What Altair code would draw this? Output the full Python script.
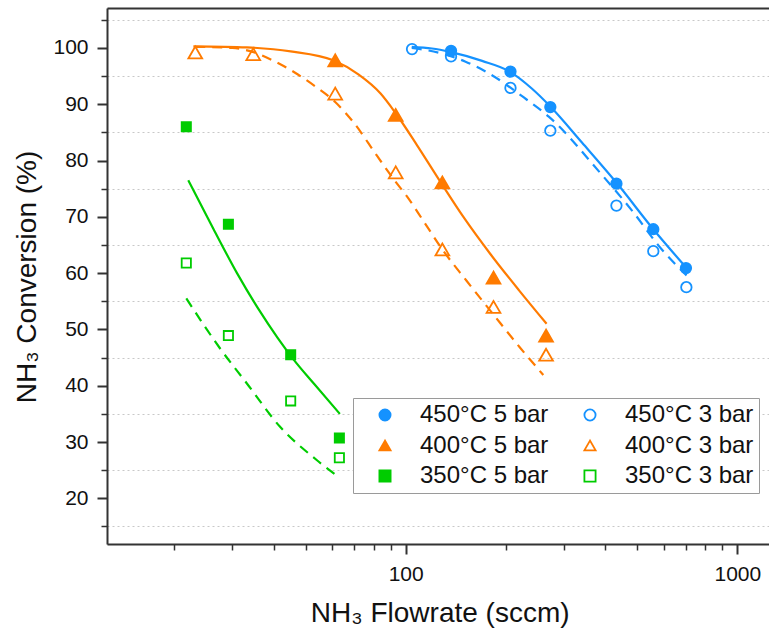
import altair as alt
import pandas as pd

# ---------------- data ----------------
# legend fills column by column: first column 5 bar, second column 3 bar
order = ["450°C 5 bar", "400°C 5 bar", "350°C 5 bar", "450°C 3 bar", "400°C 3 bar", "350°C 3 bar"]

# measured points
x_450_5 = [137, 207, 273, 432, 558, 700]
y_450_5 = [99.5, 95.8, 89.5, 75.9, 67.8, 60.9]
x_450_3 = [104.5, 137, 207, 273, 432, 558, 702]
y_450_3 = [99.8, 98.5, 92.9, 85.3, 72.0, 63.9, 57.5]
x_400_5 = [61.3, 93.3, 129, 184, 265]
y_400_5 = [97.8, 88.1, 76.1, 59.2, 48.9]
x_400_3 = [23.2, 34.7, 61.3, 93.3, 129, 184, 265]
y_400_3 = [99.2, 98.9, 91.9, 77.9, 64.2, 54.0, 45.5]
x_350_5 = [21.8, 29.2, 45.0, 63.1]
y_350_5 = [86.0, 68.7, 45.5, 30.7]
x_350_3 = [21.8, 29.2, 45.0, 63.1]
y_350_3 = [61.8, 48.9, 37.3, 27.2]

# fitted curves
fx_450_5 = [104.3, 120, 136, 170, 206, 240, 273, 340, 433, 558, 703]
fy_450_5 = [100.2, 99.9, 99.3, 97.7, 95.8, 92.8, 89.6, 83.2, 76.0, 67.8, 60.9]
fx_450_3 = [104.3, 127, 151, 178, 232, 270, 386, 480, 592, 703]
fy_450_3 = [100.0, 99.1, 97.6, 95.5, 90.8, 87.8, 77.8, 71.2, 64.2, 59.6]
fx_400_5 = [22.9, 33.2, 45, 60.5, 72, 84, 93.3, 108, 127, 150, 180, 220, 266]
fy_400_5 = [100.3, 100.1, 99.4, 97.8, 95.3, 91.9, 88.4, 82.8, 76.3, 69.8, 63.4, 56.9, 51.0]
fx_400_3 = [23.2, 30, 35, 39.4, 46.4, 53.3, 61.3, 70, 81.8, 93.3, 101, 113, 129, 152.8, 183.6, 221, 260]
fy_400_3 = [100.2, 100.0, 99.2, 97.9, 95.6, 93.2, 90.4, 86.6, 80.9, 76.2, 73.6, 69.3, 64.2, 58.6, 52.7, 46.8, 41.9]
fx_350_5 = [22.1, 26.3, 31, 36, 41, 46, 53, 63.3]
fy_350_5 = [76.5, 67.9, 60.0, 53.6, 48.6, 44.6, 40.3, 35.0]
fx_350_3 = [21.8, 27.5, 33.2, 41.8, 53.9, 63.3]
fy_350_3 = [55.5, 46.7, 40.4, 32.7, 26.8, 23.6]

BLUE, ORANGE, GREEN = "#1592FF", "#FF7B00", "#00CC00"
stroke_range = [BLUE, ORANGE, GREEN, BLUE, ORANGE, GREEN]
fill_range = [BLUE, ORANGE, GREEN, "transparent", "transparent", "transparent"]
shape_range = ["circle", "triangle-up", "square", "circle", "triangle-up", "square"]
marker_size = {"circle": 110, "triangle-up": 190, "square": 85}

minor_x = [20, 30, 40, 50, 60, 70, 80, 90, 200, 300, 400, 500, 600, 700, 800, 900]
major_x = [100, 1000]
minor_y = [15, 25, 35, 45, 55, 65, 75, 85, 95, 105]
major_y = [20, 30, 40, 50, 60, 70, 80, 90, 100]

# ---------------- tables ----------------
series_data = {
    "450°C 5 bar": ((x_450_5, y_450_5), (fx_450_5, fy_450_5)),
    "450°C 3 bar": ((x_450_3, y_450_3), (fx_450_3, fy_450_3)),
    "400°C 5 bar": ((x_400_5, y_400_5), (fx_400_5, fy_400_5)),
    "400°C 3 bar": ((x_400_3, y_400_3), (fx_400_3, fy_400_3)),
    "350°C 5 bar": ((x_350_5, y_350_5), (fx_350_5, fy_350_5)),
    "350°C 3 bar": ((x_350_3, y_350_3), (fx_350_3, fy_350_3)),
}

prow, lrow = [], []
for i, name in enumerate(order):
    (xs, ys), (fx, fy) = series_data[name]
    for a, b in zip(xs, ys):
        prow.append({"x": a, "y": b, "series": name, "sz": marker_size[shape_range[i]]})
    for k, (a, b) in enumerate(zip(fx, fy)):
        lrow.append({"x": a, "y": b, "series": name, "col": stroke_range[i],
                     "p": "5" if "5 bar" in name else "3", "k": k})
pdf = pd.DataFrame(prow)
ldf = pd.DataFrame(lrow)

FONT = "Liberation Sans"
xs_ = alt.Scale(type="log", domain=[12.57, 1246], nice=False)
ys_ = alt.Scale(domain=[11.88, 107.1], nice=False, zero=False)
AX = "#333333"

# minor ticks + grid
minor = alt.Chart(pdf).mark_point(opacity=0).encode(
    x=alt.X("x:Q", scale=xs_, axis=alt.Axis(values=minor_x, orient="bottom", tickSize=6, tickWidth=1.5,
                                           tickColor=AX, labels=False, domain=False, grid=False, title=None)),
    y=alt.Y("y:Q", scale=ys_, axis=alt.Axis(values=minor_y, orient="left", tickSize=6, tickWidth=1.5,
                                           tickColor=AX, labels=False, domain=False, grid=True,
                                           gridDash=[2, 3], gridColor="#c8c8c8", gridWidth=1, title=None)),
)

# top frame line
top = alt.Chart(pdf).mark_point(opacity=0).encode(
    x=alt.X("x:Q", scale=xs_, axis=alt.Axis(orient="top", ticks=False, labels=False, domain=True,
                                           domainColor=AX, domainWidth=2, grid=False, title=None)),
    y=alt.Y("y:Q", scale=ys_, axis=None),
)

solid = alt.Chart(ldf).transform_filter(alt.datum.p == "5").mark_line(
    strokeWidth=2.2, interpolate="monotone").encode(
    x=alt.X("x:Q", scale=xs_, axis=None),
    y=alt.Y("y:Q", scale=ys_, axis=None),
    color=alt.Color("col:N", scale=None),
    detail="series:N",
    order="k:Q",
)
dashed = alt.Chart(ldf).transform_filter(alt.datum.p == "3").mark_line(
    strokeWidth=2.2, strokeDash=[10, 7], interpolate="monotone").encode(
    x=alt.X("x:Q", scale=xs_, axis=None),
    y=alt.Y("y:Q", scale=ys_, axis=None),
    color=alt.Color("col:N", scale=None),
    detail="series:N",
    order="k:Q",
)

leg = dict(title=None, orient="none", legendX=246, legendY=390, columns=2, symbolSize=125,
           symbolStrokeWidth=1.8, labelFontSize=24, labelFont=FONT, labelColor="#111111",
           padding=5, strokeColor="#9a9a9a", fillColor="white", rowPadding=6.5, columnPadding=14,
           symbolOffset=15, labelOffset=23, labelLimit=300)

points = alt.Chart(pdf).mark_point(filled=True, strokeWidth=1.8, opacity=1).encode(
    x=alt.X("x:Q", scale=xs_, axis=alt.Axis(values=major_x, orient="bottom", tickSize=10, tickWidth=2,
                                           tickColor=AX, domainColor=AX, domainWidth=2, grid=False,
                                           format="d", labelFont=FONT, labelFontSize=21, labelColor="#111111",
                                           labelBaseline="alphabetic", labelPadding=26,
                                           title="NH₃ Flowrate (sccm)", titleFont=FONT, titleFontSize=28,
                                           titleFontWeight="normal", titleColor="#111111",
                                           titleX=332.7, titleY=77.7, titleAlign="center",
                                           titleBaseline="alphabetic")),
    y=alt.Y("y:Q", scale=ys_, axis=alt.Axis(values=major_y, orient="left", tickSize=10, tickWidth=2,
                                           tickColor=AX, domainColor=AX, domainWidth=2, grid=False,
                                           labelFont=FONT, labelFontSize=21, labelColor="#111111",
                                           labelPadding=9,
                                           title="NH₃ Conversion (%)", titleFont=FONT, titleFontSize=28,
                                           titleFontWeight="normal", titleColor="#111111",
                                           titleAngle=270, titleX=-72, titleY=268.5, titleAlign="center",
                                           titleBaseline="alphabetic")),
    stroke=alt.Stroke("series:N", scale=alt.Scale(domain=order, range=stroke_range), legend=alt.Legend(**leg)),
    fill=alt.Fill("series:N", scale=alt.Scale(domain=order, range=fill_range), legend=alt.Legend(**leg)),
    shape=alt.Shape("series:N", scale=alt.Scale(domain=order, range=shape_range), legend=alt.Legend(**leg)),
    size=alt.Size("sz:Q", scale=None),
)

chart = alt.layer(minor, top, solid, dashed, points).resolve_axis(
    x="independent", y="independent"
).properties(
    width=662, height=536,
    autosize=alt.AutoSizeParams(type="none"),
    padding={"left": 107, "top": 8, "right": 0, "bottom": 86},
).configure_view(stroke=None).configure(background="white")

chart.save("out.html", embed_options={"renderer": "svg", "actions": False})
